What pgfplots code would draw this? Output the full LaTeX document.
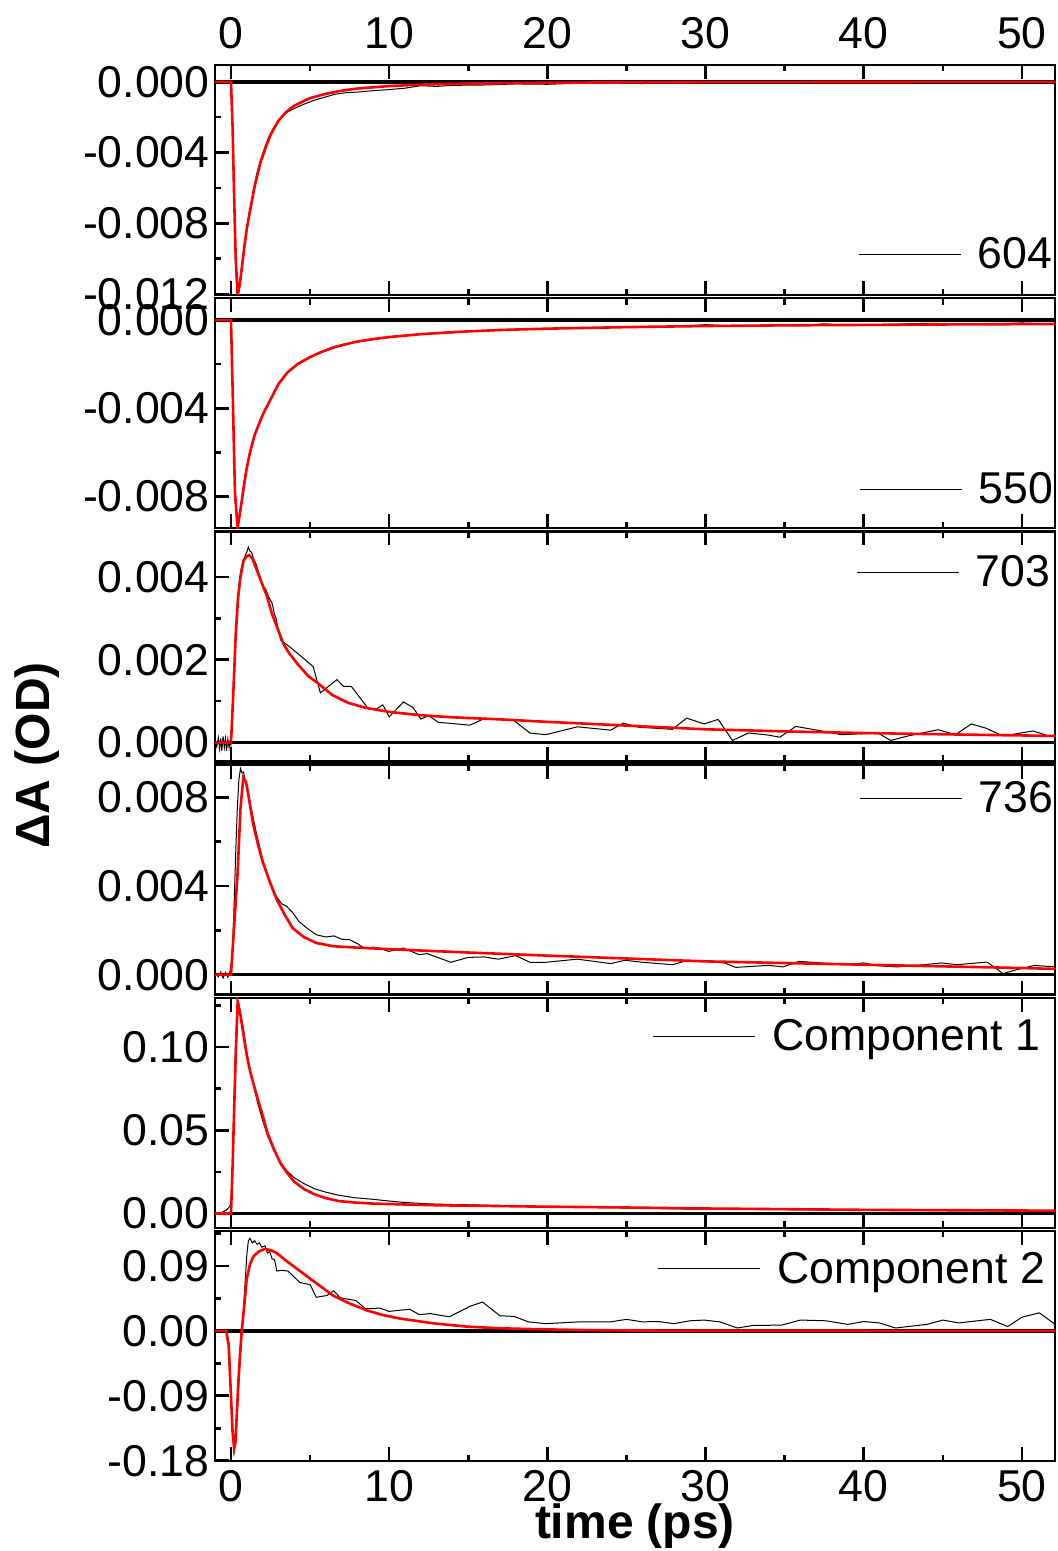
\documentclass[border=0pt]{standalone}
\usepackage{fontspec}
\setmainfont{Liberation Sans}
\usepackage{pgfplots}
\pgfplotsset{compat=1.18}

\newcommand{\tickfont}{\fontsize{22.3}{26}\selectfont}
\newcommand{\labfont}{\fontsize{24}{28}\selectfont\bfseries}

\pgfplotsset{
  panel/.style={
    scale only axis, width=420pt, height=115pt,
    xmin=-1.01, xmax=52.09,
    axis line style={line width=1.25pt},
    tick align=inside, major tick length=7pt, minor tick length=3.2pt,
    tick style={black, line width=1.3pt},
    xtick={0,10,20,30,40,50}, minor xtick={5,15,25,35,45},
    xtick pos=both, ytick pos=left,
    xticklabels={},
    yticklabel style={font=\tickfont, inner sep=0pt, xshift=-2.5pt},
    xticklabel style={font=\tickfont, inner sep=0pt},
    scaled y ticks=false,
    legend style={draw=none, fill=none, inner sep=0pt, outer sep=0pt,
      font=\tickfont, anchor=east, nodes={inner sep=0pt}},
    % short line, then an empty stretch as the gap before the text
    legend image code/.code={
      \draw[black, line width=0.5pt] (0pt,0pt) -- (51pt,0pt);
      \path[draw=none] (0pt,0pt) -- (59.5pt,0pt);},
  },
  dat/.style={black, line width=0.5pt},
  fit/.style={red, line width=1.3pt, forget plot},
  zero/.style={black, line width=1.8pt, forget plot},
}

\begin{document}
\begin{tikzpicture}
\useasboundingbox (0,0) rectangle (529pt,-775.5pt);

% 604 nm
\begin{axis}[panel, at={(107.5pt,-32.5pt)}, anchor=north west,
  ymin=-0.01205, ymax=0.00095,
  ytick={-0.012,-0.008,-0.004,0}, yticklabels={-0.012,-0.008,-0.004,0.000},
  minor ytick={-0.010,-0.006,-0.002},
  xticklabel pos=upper, xticklabels={0,10,20,30,40,50},
  xticklabel style={yshift=7.8pt},
  legend style={at={(1,0.176)}, xshift=-1.5pt}]
\addplot[zero] coordinates {(-1.01,0) (52.09,0)};
\addplot[dat] coordinates {
(-1.0,0.00003) (-0.85,-0.00004) (-0.7,0.00002) (-0.55,-0.00003) (-0.4,0.00004)
(-0.25,-0.00002) (-0.1,0.00001) (0,-0.0002) (0.1,-0.0030) (0.2,-0.0072)
(0.3,-0.0105) (0.4,-0.0121) (0.5,-0.0119) (0.6,-0.0112) (0.7,-0.0105)
(0.85,-0.0094) (1.0,-0.0084) (1.2,-0.0072) (1.4,-0.0062) (1.6,-0.0053)
(1.85,-0.0045) (2.1,-0.0038) (2.4,-0.0031) (2.7,-0.0026) (3.0,-0.0022)
(3.4,-0.0018) (3.8,-0.0016) (4.3,-0.00138) (4.8,-0.0012) (5.4,-0.001)
(5.9,-0.00088) (6.5,-0.00072) (7.2,-0.00062) (8.0,-0.00058) (9.0,-0.0005)
(10.0,-0.00044) (11.0,-0.00036) (12.0,-0.00022) (13.0,-0.00026) (14.0,-0.0002)
(16.0,-0.00018) (18.0,-0.00012) (20.0,-0.00014) (22.0,-0.00008) (24.0,-0.00005)
(26.0,-0.0001) (28.0,-0.00004) (30.0,-0.00003) (32.0,-0.00008) (34.0,-0.00002)
(36.0,-0.00005) (38.0,0) (40.0,-0.00003) (43.0,0) (46.0,-0.00002) (49.0,0) (52.1,0)};
\addlegendentry{604}
\addplot[fit] coordinates {
(-1.0,0) (0,0) (0.1,-0.0025) (0.2,-0.0065) (0.3,-0.0100) (0.42,-0.0120)
(0.55,-0.0115) (0.7,-0.0104) (0.85,-0.0093) (1.0,-0.0083) (1.2,-0.0073)
(1.5,-0.0059) (1.85,-0.0046) (2.2,-0.0037) (2.5,-0.0030) (3.0,-0.0022)
(3.5,-0.0017) (4.0,-0.00135) (5.0,-0.00092) (6.0,-0.00068) (7.0,-0.0005)
(8.0,-0.00038) (10.0,-0.00024) (12.0,-0.00016) (15.0,-0.0001) (20.0,-0.00005)
(30.0,-0.00002) (52.1,0)};
\end{axis}

% 550 nm
\begin{axis}[panel, at={(107.5pt,-149.1pt)}, anchor=north west,
  ymin=-0.00943, ymax=0.00099,
  ytick={-0.008,-0.004,0}, yticklabels={-0.008,-0.004,0.000},
  minor ytick={-0.006,-0.002},
  legend style={at={(1,0.168)}, xshift=-1pt}]
\addplot[zero] coordinates {(-1.01,0) (52.09,0)};
\addplot[dat] coordinates {
(-1.0,0.00002) (-0.8,-0.00003) (-0.6,0.00003) (-0.4,-0.00002) (-0.2,0.00002)
(0,0) (0.1,-0.0032) (0.25,-0.0080) (0.4,-0.0095) (0.55,-0.0089) (0.7,-0.0080)
(0.85,-0.0072) (1.0,-0.0066) (1.2,-0.0060) (1.5,-0.0052) (1.8,-0.0046)
(2.1,-0.0041) (2.5,-0.0036) (3.0,-0.0029) (3.5,-0.0024) (4.0,-0.0021)
(4.5,-0.00185) (5.0,-0.0017) (5.7,-0.00145) (6.5,-0.0012) (7.2,-0.00108)
(8.0,-0.00098) (9.0,-0.00088) (10.0,-0.00076) (11.0,-0.0007) (12.0,-0.00063)
(13.0,-0.0006) (14.0,-0.00058) (15.0,-0.0005) (16.0,-0.00047) (18.0,-0.00042)
(20.0,-0.00039) (22.0,-0.00036) (24.0,-0.00034) (26.0,-0.0003) (28.0,-0.00029)
(30.0,-0.00021) (32.0,-0.00027) (34.0,-0.00025) (36.0,-0.00025) (37.5,-0.00017)
(39.0,-0.00023) (41.0,-0.00022) (43.0,-0.00016) (44.5,-0.00015) (46.0,-0.0002)
(48.0,-0.00018) (50.0,-0.00013) (52.1,-0.00018)};
\addlegendentry{550}
\addplot[fit] coordinates {
(-1.0,0) (0,0) (0.1,-0.003) (0.25,-0.0078) (0.42,-0.0094) (0.6,-0.0086)
(0.8,-0.0076) (1.0,-0.0067) (1.2,-0.0060) (1.5,-0.0052) (2.0,-0.0043)
(2.5,-0.0036) (3.0,-0.0029) (3.56,-0.00238) (4.2,-0.002) (5.0,-0.00168)
(5.7,-0.00145) (6.5,-0.00124) (7.8,-0.001) (9.0,-0.00086) (10.0,-0.00077)
(12.0,-0.00064) (14.2,-0.00054) (17.0,-0.00045) (20.0,-0.00039) (25.0,-0.00032)
(30.0,-0.00027) (35.0,-0.00024) (40.0,-0.00022) (45.0,-0.0002) (52.1,-0.00018)};
\end{axis}

% 703 nm
\begin{axis}[panel, at={(107.5pt,-265.7pt)}, anchor=north west,
  ymin=-0.000455, ymax=0.0051,
  ytick={0,0.002,0.004}, yticklabels={0.000,0.002,0.004},
  minor ytick={0.001,0.003},
  legend style={at={(1,0.82)}, xshift=-2.5pt}]
\addplot[zero] coordinates {(-1.01,0) (52.09,0)};
\addplot[dat] coordinates {
(-1.0,0.00005) (-0.9,-0.0001) (-0.8,0.00012) (-0.72,-0.00015) (-0.65,0.0001)
(-0.58,-0.0002) (-0.5,0.00015) (-0.42,-0.00012) (-0.35,0.0001) (-0.28,-0.0002)
(-0.2,0.00008) (-0.12,-0.00012) (-0.05,0.00005) (0,-0.00005) (0.06,0.0006)
(0.17,0.0016) (0.27,0.0025) (0.38,0.0033) (0.48,0.0037) (0.6,0.0041)
(0.7,0.0043) (0.8,0.0044) (0.9,0.00452) (1.0,0.0046) (1.1,0.00472)
(1.2,0.00462) (1.3,0.0046) (1.43,0.00444) (1.6,0.0043) (1.75,0.0041)
(1.85,0.0040) (2.0,0.0038) (2.2,0.0037) (2.4,0.0035) (2.6,0.00337)
(2.75,0.0031) (2.85,0.0030) (2.95,0.0028) (3.15,0.00247) (3.75,0.0023)
(4.6,0.00203) (5.2,0.00183) (5.65,0.0012) (6.7,0.00152) (7.1,0.00136)
(7.6,0.00136) (8.7,0.00081) (9.2,0.00081) (9.6,0.00091) (10.0,0.00062)
(10.9,0.00098) (11.5,0.00085) (12.0,0.00057) (12.5,0.00065) (13.1,0.00049)
(15.1,0.00042) (15.9,0.00056) (17.8,0.00056) (18.9,0.00023) (19.9,0.00019)
(21.9,0.00038) (24.0,0.0003) (24.8,0.00047) (25.8,0.00037) (27.9,0.00032)
(28.8,0.00059) (29.9,0.00045) (30.8,0.00056) (31.7,0.00005) (32.7,0.00023)
(33.8,0.00019) (34.7,0.00013) (35.7,0.00039) (36.9,0.00031) (38.6,0.00019)
(40.9,0.00023) (41.7,0.00005) (42.8,0.00016) (44.7,0.00031) (45.8,0.00019)
(46.8,0.00045) (47.7,0.00035) (48.8,0.00016) (50.7,0.00028) (51.7,0.00016)
(52.1,0.00018)};
\addlegendentry{703}
\addplot[fit] coordinates {
(-1,0) (0,0) (0.15,0.0012) (0.3,0.0026) (0.45,0.0035) (0.6,0.0040) (0.8,0.0044)
(1.0,0.0045) (1.15,0.00453) (1.35,0.00445) (1.6,0.0042) (1.9,0.0039)
(2.26,0.00355) (2.6,0.0031) (2.9,0.0028) (3.3,0.0024) (3.6,0.0022) (4.2,0.0019)
(4.9,0.0016) (5.6,0.0014) (6.4,0.00115) (7.4,0.00096) (8.5,0.00084)
(10.0,0.00074) (12.0,0.00066) (14.0,0.00061) (17.0,0.00056) (20.0,0.0005)
(25.0,0.00041) (30.0,0.00032) (35.0,0.00027) (40.0,0.00023) (45.0,0.0002)
(52.1,0.00016)};
\end{axis}

% 736 nm
\begin{axis}[panel, at={(107.5pt,-382.3pt)}, anchor=north west,
  ymin=-0.0009, ymax=0.00948,
  ytick={0,0.004,0.008}, yticklabels={0.000,0.004,0.008},
  minor ytick={0.002,0.006},
  legend style={at={(1,0.851)}, xshift=-1pt}]
\addplot[zero] coordinates {(-1.01,0) (52.09,0)};
\addplot[dat] coordinates {
(-1.0,0.00005) (-0.8,-0.0001) (-0.65,0.00012) (-0.5,-0.00015) (-0.35,0.0001)
(-0.2,-0.00012) (-0.08,0.00008) (0,0.0004) (0.1,0.0012) (0.2,0.0032)
(0.3,0.0055) (0.4,0.0075) (0.5,0.0088) (0.6,0.0093) (0.7,0.0091) (0.8,0.00915)
(0.9,0.0087) (1.0,0.0085) (1.1,0.0082) (1.25,0.0076) (1.4,0.0071) (1.6,0.0064)
(1.8,0.0058) (2.0,0.0052) (2.3,0.0045) (2.6,0.0039) (2.9,0.0035) (3.2,0.0032)
(3.5,0.0031) (3.9,0.0028) (4.3,0.0024) (4.8,0.0021) (5.4,0.0018) (6.0,0.0017)
(6.5,0.00175) (7.0,0.0016) (7.5,0.00158) (8.0,0.0014) (8.4,0.0012) (9.0,0.00124)
(9.4,0.0012) (9.96,0.00105) (10.9,0.0012) (11.9,0.0009) (12.4,0.00095)
(13.9,0.00056) (15.0,0.00078) (16.0,0.0008) (16.9,0.0007) (18.0,0.00086)
(18.9,0.00056) (19.9,0.00056) (21.9,0.0007) (24.0,0.0005) (24.9,0.00065)
(26.0,0.00056) (27.9,0.00045) (28.9,0.00065) (31.2,0.00053) (31.9,0.00033)
(34.0,0.00042) (34.9,0.00035) (35.9,0.0006) (39.0,0.00045) (40.0,0.00053)
(41.0,0.0004) (42.1,0.00035) (43.8,0.00045) (44.9,0.00053) (45.9,0.00045)
(47.8,0.00057) (48.8,0.00005) (49.7,0.00023) (50.8,0.00042) (52.1,0.00035)};
\addlegendentry{736}
\addplot[fit] coordinates {
(-1,0) (0,0) (0.2,0.0022) (0.42,0.0046) (0.6,0.0075) (0.78,0.0089)
(0.95,0.0087) (1.1,0.0081) (1.4,0.0068) (1.7,0.0059) (2.0,0.0051)
(2.45,0.0042) (2.9,0.00338) (3.4,0.0027) (3.9,0.0021) (4.6,0.0017)
(5.4,0.00143) (6.5,0.00128) (8.0,0.00122) (10.0,0.00115) (15.0,0.001)
(20.0,0.00086) (30.0,0.0006) (40.0,0.00045) (50.0,0.0003) (52.1,0.00026)};
\end{axis}

% Component 1
\begin{axis}[panel, at={(107.5pt,-498.9pt)}, anchor=north west,
  ymin=-0.0086, ymax=0.1296,
  ytick={0,0.05,0.10}, yticklabels={0.00,0.05,0.10},
  minor ytick={0.025,0.075,0.125},
  legend style={at={(1,0.83)}, xshift=-7.5pt}]
\addplot[zero] coordinates {(-1.01,0) (52.09,0)};
\addplot[dat] coordinates {
(-1.0,0) (-0.6,0.0005) (-0.3,0.002) (-0.1,0.004) (0.0,0.006) (0.1,0.03)
(0.2,0.07) (0.3,0.105) (0.4,0.124) (0.48,0.127) (0.6,0.121) (0.8,0.110)
(1.0,0.097) (1.2,0.086) (1.45,0.076) (1.7,0.066) (2.0,0.056) (2.3,0.047)
(2.7,0.038) (3.1,0.031) (3.5,0.026) (4.0,0.0215) (4.6,0.018) (5.3,0.0148)
(6.0,0.0128) (6.8,0.011) (7.8,0.0095) (8.9,0.0086) (10,0.0075) (11,0.0066)
(12.5,0.0058) (14,0.0054) (15.2,0.0052) (17,0.0048) (19,0.0044) (22,0.0038)
(25,0.0034) (28,0.0028) (30,0.0025) (32,0.0026) (35,0.0024) (38,0.0021)
(41,0.002) (44,0.0018) (47,0.0017) (50,0.0015) (52.1,0.0016)};
\addlegendentry{Component 1}
\addplot[fit] coordinates {
(-1,0) (0,0) (0.1,0.028) (0.2,0.062) (0.3,0.095) (0.42,0.1267) (0.6,0.119)
(0.8,0.107) (1.0,0.095) (1.2,0.0857) (1.64,0.0704) (2.0,0.059) (2.3,0.0486)
(2.7,0.039) (3.14,0.030) (3.5,0.025) (4.0,0.0191) (4.6,0.0148) (5.28,0.0115)
(6.0,0.0092) (6.8,0.0075) (7.8,0.0066) (8.9,0.006) (11,0.0054) (13.2,0.0049)
(16,0.0046) (19,0.0042) (25,0.0036) (30,0.003) (40,0.0022) (52.1,0.0017)};
\end{axis}

% Component 2
\begin{axis}[panel, at={(107.5pt,-615.5pt)}, anchor=north west,
  ymin=-0.1805, ymax=0.1385,
  ytick={-0.18,-0.09,0,0.09}, yticklabels={-0.18,-0.09,0.00,0.09},
  minor ytick={-0.135,-0.045,0.045,0.135},
  xticklabel pos=lower, xticklabels={0,10,20,30,40,50},
  xticklabel style={yshift=-4.7pt},
  xlabel={time (ps)},
  xlabel style={font=\labfont, at={(0.5,0)}, anchor=north, inner sep=0pt, yshift=-21pt},
  legend style={at={(1,0.835)}, xshift=-5pt}]
\addplot[zero] coordinates {(-1.01,0) (52.09,0)};
\addplot[dat] coordinates {
(-1.0,0.001) (-0.6,0.001) (-0.3,0) (-0.1,-0.02) (0.0,-0.09) (0.1,-0.14)
(0.2,-0.168) (0.28,-0.155) (0.4,-0.11) (0.55,-0.05) (0.7,0.0) (0.85,0.05)
(1.0,0.105) (1.1,0.125) (1.2,0.1284) (1.35,0.122) (1.5,0.125) (1.65,0.12)
(1.8,0.122) (1.95,0.116) (2.15,0.118) (2.3,0.108) (2.45,0.11) (2.6,0.1)
(2.75,0.099) (2.9,0.083) (3.2,0.084) (3.6,0.083) (4.36,0.067) (5.0,0.064)
(5.4,0.0466) (6.06,0.049) (6.5,0.0556) (6.9,0.046) (7.9,0.042) (8.5,0.0307)
(9.4,0.0316) (10.0,0.027) (11.3,0.03) (11.9,0.0225) (12.6,0.024) (13.8,0.0195)
(15.1,0.034) (15.9,0.04) (17.0,0.021) (17.9,0.02) (18.8,0.0125) (19.9,0.010)
(22,0.0125) (24,0.0125) (25,0.016) (26,0.0125) (27,0.013) (28,0.010)
(29,0.014) (29.9,0.015) (30.9,0.0125) (32,0.004) (33,0.0075) (34.8,0.008)
(36,0.015) (37.6,0.014) (39,0.009) (40,0.013) (41,0.011) (42,0.004) (44,0.009)
(45,0.015) (46,0.011) (48,0.016) (49.1,0.006) (50,0.019) (51.1,0.025)
(52.1,0.009)};
\addlegendentry{Component 2}
\addplot[fit] coordinates {
(-1,0) (-0.3,0) (-0.15,-0.02) (0.0,-0.09) (0.1,-0.14) (0.2,-0.163)
(0.28,-0.155) (0.46,-0.074) (0.58,-0.03) (0.68,0.0) (0.85,0.038) (0.99,0.0716)
(1.2,0.092) (1.41,0.103) (1.75,0.11) (2.15,0.1136) (2.5,0.112) (2.89,0.108)
(3.5,0.097) (4.36,0.083) (5.4,0.066) (6.47,0.0488) (7.5,0.038) (8.58,0.0284)
(9.6,0.022) (10.7,0.017) (12.8,0.0105) (14.9,0.0059) (17,0.0036) (19,0.0025)
(22,0.0012) (25,0.0006) (30,0.0002) (52.1,0)};
\end{axis}

\node[rotate=90, font=\labfont, inner sep=0pt] at (18.75pt,-377.75pt) {ΔA (OD)};
\end{tikzpicture}
\end{document}
